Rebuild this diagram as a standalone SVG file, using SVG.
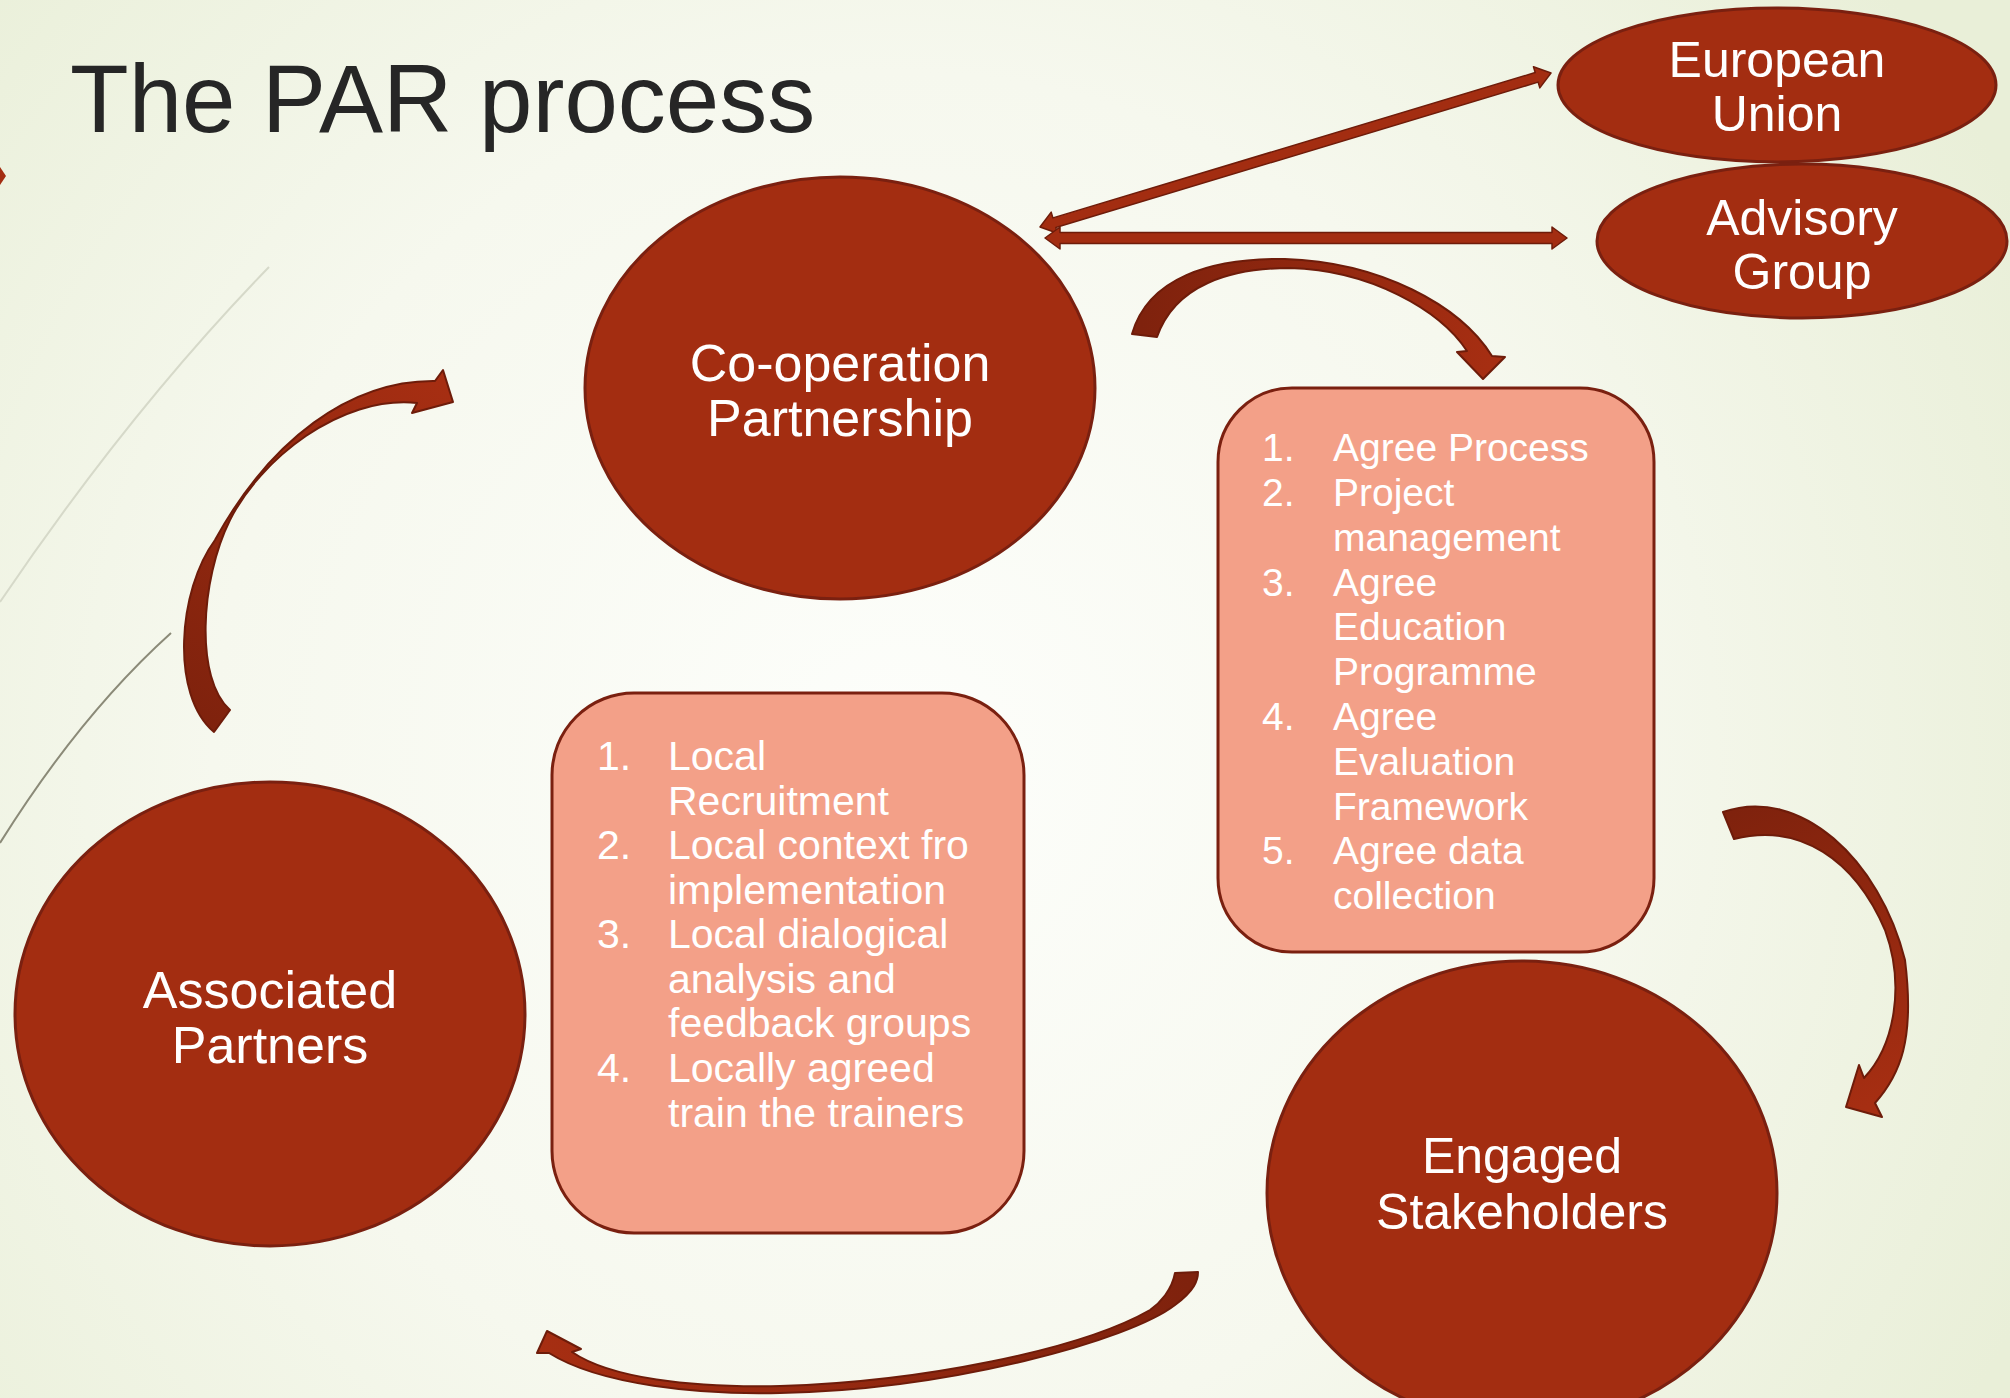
<svg xmlns="http://www.w3.org/2000/svg" width="2010" height="1398" viewBox="0 0 2010 1398">
<defs>
<radialGradient id="bg" cx="900" cy="760" r="1250" gradientUnits="userSpaceOnUse">
<stop offset="0" stop-color="#fdfefb"/>
<stop offset="0.55" stop-color="#f6f8ee"/>
<stop offset="1" stop-color="#e9efd8"/>
</radialGradient>
<linearGradient id="gTop" x1="1140" y1="330" x2="1490" y2="370" gradientUnits="userSpaceOnUse">
<stop offset="0" stop-color="#7f220d"/><stop offset="1" stop-color="#a62e12"/>
</linearGradient>
<linearGradient id="gLeft" x1="214" y1="730" x2="450" y2="390" gradientUnits="userSpaceOnUse">
<stop offset="0" stop-color="#7f220d"/><stop offset="1" stop-color="#a62e12"/>
</linearGradient>
<linearGradient id="gRight" x1="1725" y1="815" x2="1860" y2="1110" gradientUnits="userSpaceOnUse">
<stop offset="0" stop-color="#7f220d"/><stop offset="1" stop-color="#a62e12"/>
</linearGradient>
<linearGradient id="gBottom" x1="1190" y1="1275" x2="540" y2="1350" gradientUnits="userSpaceOnUse">
<stop offset="0" stop-color="#7f220d"/><stop offset="1" stop-color="#a62e12"/>
</linearGradient>
</defs>
<style>
.oval{fill:#a32d11;stroke:#7a2010;stroke-width:3}
.box{fill:#f3a088;stroke:#7a2010;stroke-width:3}
.otxt{font-family:"Liberation Sans",Arial,sans-serif;fill:#ffffff;text-anchor:middle}
.ltxt{font-family:"Liberation Sans",Arial,sans-serif;fill:#ffffff}
.arr{stroke:#6e1c0a;stroke-width:2;stroke-linejoin:round}
.dbl{fill:#a32d11;stroke:#6e1c0a;stroke-width:1.5;stroke-linejoin:round}
</style>
<rect x="0" y="0" width="2010" height="1398" fill="url(#bg)"/>
<path d="M269,267 Q130,410 0,602" fill="none" stroke="#d6d9c9" stroke-width="2"/>
<path d="M171,633 Q80,715 0,843" fill="none" stroke="#8b8a78" stroke-width="2"/>
<polygon points="0,167 6,176 0,185" fill="#a32d11"/>

<text x="70" y="132" font-family="Liberation Sans, Arial, sans-serif" font-size="96" fill="#262626">The PAR process</text>

<g id="connectors">
<polygon class="dbl" points="0,0 15,-11 15,-5 518.7,-5 518.7,-11 533.7,0 518.7,11 518.7,5 15,5 15,11" transform="translate(1040,227) rotate(-16.77)"/>
<polygon class="dbl" points="1045,238 1060,227 1060,232.5 1552,232.5 1552,227 1567,238 1552,249 1552,243.5 1060,243.5 1060,249"/>
<path class="arr" fill="url(#gTop)" d="M1132,334 C1148,278 1210,258 1285,259 C1380,262 1460,305 1492,356 L1505,357 L1483,379 L1457,352 L1467,351 C1440,310 1370,270 1290,268 C1230,268 1175,285 1157,337 Z"/>
<path class="arr" fill="url(#gLeft)" d="M214,732 C170,695 178,590 215,540 C270,440 350,380 435,381 L443,370 L453,402 L412,413 L417,403 C340,395 260,460 230,520 C200,580 195,680 230,710 Z"/>
<path class="arr" fill="url(#gRight)" d="M1723,812 C1800,785 1880,860 1905,960 C1915,1040 1900,1075 1875,1103 L1882,1117 L1846,1107 L1859,1065 L1864,1078 C1895,1045 1905,985 1885,930 C1855,860 1800,822 1734,839 Z"/>
<path class="arr" fill="url(#gBottom)" d="M549,1353 C600,1385 700,1395 780,1393 C950,1390 1130,1340 1175,1305 C1195,1290 1198,1280 1198,1272 L1175,1273 C1172,1290 1160,1303 1150,1310 C1080,1350 920,1382 780,1386 C690,1388 610,1378 572,1352 L581,1349 L547,1331 L537,1353 Z"/>
</g>

<g id="node-cooperation">
<ellipse class="oval" cx="840" cy="388" rx="255" ry="211"/>
<text class="otxt" x="840" y="381" font-size="52">Co-operation</text>
<text class="otxt" x="840" y="436" font-size="52">Partnership</text>
</g>

<g id="node-associated">
<ellipse class="oval" cx="270" cy="1014" rx="255" ry="232"/>
<text class="otxt" x="270" y="1008" font-size="52">Associated</text>
<text class="otxt" x="270" y="1063" font-size="52">Partners</text>
</g>

<g id="node-engaged">
<ellipse class="oval" cx="1522" cy="1193" rx="255" ry="232"/>
<text class="otxt" x="1522" y="1173" font-size="50">Engaged</text>
<text class="otxt" x="1522" y="1229" font-size="50">Stakeholders</text>
</g>

<g id="node-eu">
<ellipse class="oval" cx="1777" cy="85" rx="219" ry="77"/>
<text class="otxt" x="1777" y="77" font-size="50">European</text>
<text class="otxt" x="1777" y="131" font-size="50">Union</text>
</g>

<g id="node-advisory">
<ellipse class="oval" cx="1802" cy="241" rx="205" ry="77"/>
<text class="otxt" x="1802" y="235" font-size="50">Advisory</text>
<text class="otxt" x="1802" y="289" font-size="50">Group</text>
</g>

<g id="node-agree">
<rect class="box" x="1218" y="388" width="436" height="564" rx="74" ry="74"/>
<g class="ltxt" font-size="39">
<text x="1262" y="461">1.</text><text x="1333" y="461">Agree Process</text>
<text x="1262" y="506">2.</text><text x="1333" y="506">Project</text>
<text x="1333" y="551">management</text>
<text x="1262" y="596">3.</text><text x="1333" y="596">Agree</text>
<text x="1333" y="640">Education</text>
<text x="1333" y="685">Programme</text>
<text x="1262" y="730">4.</text><text x="1333" y="730">Agree</text>
<text x="1333" y="775">Evaluation</text>
<text x="1333" y="820">Framework</text>
<text x="1262" y="864">5.</text><text x="1333" y="864">Agree data</text>
<text x="1333" y="909">collection</text>
</g>
</g>

<g id="node-local">
<rect class="box" x="552" y="693" width="472" height="540" rx="82" ry="82"/>
<g class="ltxt" font-size="41">
<text x="597" y="770">1.</text><text x="668" y="770">Local</text>
<text x="668" y="815">Recruitment</text>
<text x="597" y="859">2.</text><text x="668" y="859">Local context fro</text>
<text x="668" y="904">implementation</text>
<text x="597" y="948">3.</text><text x="668" y="948">Local dialogical</text>
<text x="668" y="993">analysis and</text>
<text x="668" y="1037">feedback groups</text>
<text x="597" y="1082">4.</text><text x="668" y="1082">Locally agreed</text>
<text x="668" y="1127">train the trainers</text>
</g>
</g>
</svg>
